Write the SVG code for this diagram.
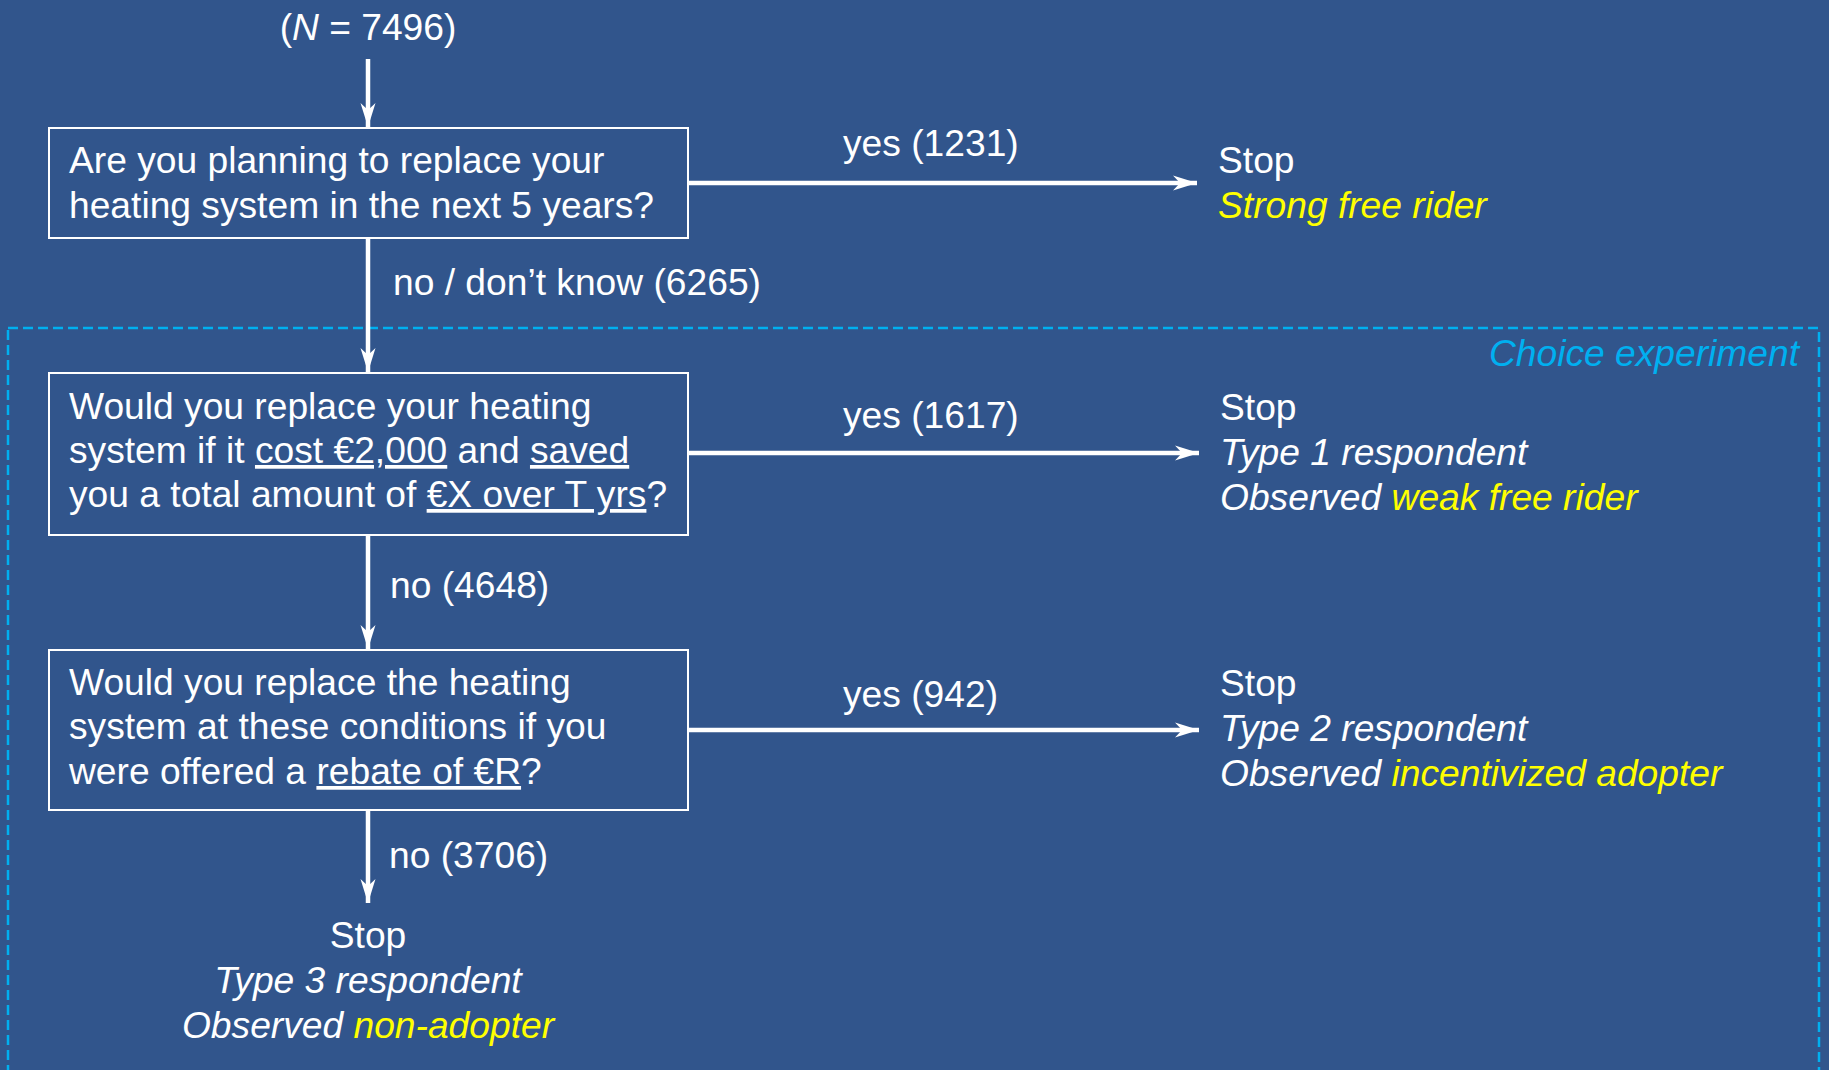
<svg xmlns="http://www.w3.org/2000/svg" width="1829" height="1070" viewBox="0 0 1829 1070">
<style>
text{font-family:"Liberation Sans",Arial,sans-serif;font-size:37.2px;fill:#fff}
.it{font-style:italic}
.y{fill:#ffff00}
.u{text-decoration:underline;text-decoration-skip-ink:none}
.box{fill:none;stroke:#fff;stroke-width:2}
.conn{stroke:#fff;stroke-width:4.5;fill:none;marker-end:url(#ah)}
.ce{fill:#00b0f0}
</style>
<defs>
<marker id="ah" markerUnits="userSpaceOnUse" markerWidth="30" markerHeight="20" viewBox="-26 -10 30 20" refX="0" refY="0" orient="auto">
<path d="M0,0 L-24,-7.5 L-17,0 L-24,7.5 Z" fill="#fff"/>
</marker>
</defs>
<rect x="0" y="0" width="1829" height="1070" fill="#31558c"/>
<g id="choice-experiment">
<rect x="8" y="328" width="1811" height="760" fill="none" stroke="#00b0f0" stroke-width="2.5" stroke-dasharray="10 5"/>
<text class="it ce" x="1799" y="366" text-anchor="end">Choice experiment</text>
</g>
<g id="connectors">
<line class="conn" x1="368" y1="59" x2="368" y2="127"/>
<line class="conn" x1="368" y1="239" x2="368" y2="372"/>
<line class="conn" x1="368" y1="536" x2="368" y2="649"/>
<line class="conn" x1="368" y1="811" x2="368" y2="903"/>
<line class="conn" x1="689" y1="183" x2="1197" y2="183"/>
<line class="conn" x1="689" y1="453" x2="1199" y2="453"/>
<line class="conn" x1="689" y1="730" x2="1199" y2="730"/>
<text x="843" y="156">yes (1231)</text>
<text x="843" y="428">yes (1617)</text>
<text x="843" y="707">yes (942)</text>
<text x="393" y="295">no / don’t know (6265)</text>
<text x="390" y="598">no (4648)</text>
<text x="389" y="868">no (3706)</text>
</g>
<g id="start">
<text x="368" y="40" text-anchor="middle">(<tspan class="it">N</tspan> = 7496)</text>
</g>
<g id="q1">
<rect class="box" x="49" y="128" width="639" height="110"/>
<text x="69" y="173">Are you planning to replace your</text>
<text x="69" y="218">heating system in the next 5 years?</text>
</g>
<g id="q2">
<rect class="box" x="49" y="373" width="639" height="162"/>
<text x="69" y="419">Would you replace your heating</text>
<text x="69" y="463">system if it <tspan class="u">cost €2,000</tspan> and <tspan class="u">saved</tspan></text>
<text x="69" y="507">you a total amount of <tspan class="u">€X over T yrs</tspan>?</text>
</g>
<g id="q3">
<rect class="box" x="49" y="650" width="639" height="160"/>
<text x="69" y="695">Would you replace the heating</text>
<text x="69" y="739">system at these conditions if you</text>
<text x="69" y="784">were offered a <tspan class="u">rebate of €R</tspan>?</text>
</g>
<g id="stop1">
<text x="1218" y="173">Stop</text>
<text x="1218" y="218" class="it y">Strong free rider</text>
</g>
<g id="stop2">
<text x="1220" y="420">Stop</text>
<text x="1220" y="465" class="it">Type 1 respondent</text>
<text x="1220" y="510" class="it">Observed <tspan class="y">weak free rider</tspan></text>
</g>
<g id="stop3">
<text x="1220" y="696">Stop</text>
<text x="1220" y="741" class="it">Type 2 respondent</text>
<text x="1220" y="786" class="it">Observed <tspan class="y">incentivized adopter</tspan></text>
</g>
<g id="stop4">
<text x="368" y="948" text-anchor="middle">Stop</text>
<text x="368" y="993" text-anchor="middle" class="it">Type 3 respondent</text>
<text x="368" y="1038" text-anchor="middle" class="it">Observed <tspan class="y">non-adopter</tspan></text>
</g>
</svg>
